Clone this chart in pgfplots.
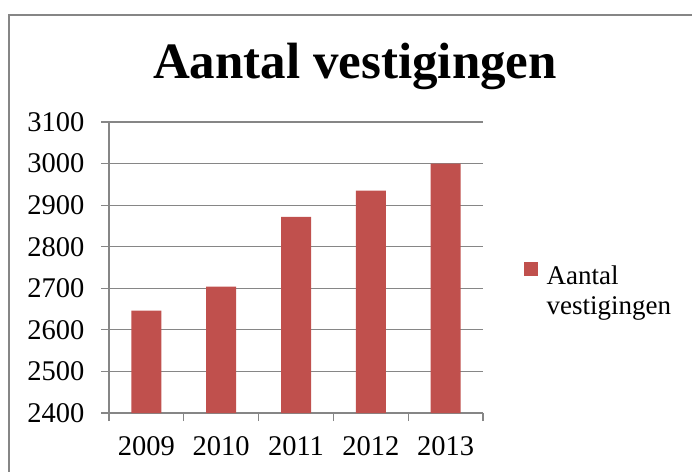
\documentclass[border=0pt]{standalone}
\usepackage{fontspec}
\setmainfont{Liberation Serif}
\usepackage{pgfplots}
\pgfplotsset{compat=1.18}
\definecolor{barred}{HTML}{C0504D}
\definecolor{gridgray}{HTML}{868686}
\begin{document}
\begin{tikzpicture}[x=1pt,y=1pt]
\useasboundingbox (0,0) rectangle (692,471);
\begin{scope}
\clip (0,0) rectangle (692,471);
\draw[gridgray, line width=1.5pt] (9,-20) rectangle (720,456);
\end{scope}
\node[font=\fontsize{51}{60}\selectfont\bfseries, anchor=base, inner sep=0pt] at (355,392) {Aantal vestigingen};
\begin{axis}[
  at={(109pt,58pt)}, anchor=south west,
  scale only axis, width=374pt, height=291pt,
  xmin=0.5, xmax=5.5, ymin=2400, ymax=3100,
  ytick={2400,2500,...,3100},
  ymajorgrids, grid style={gridgray, line width=1.2pt},
  axis x line*=bottom, axis y line*=left,
  axis line style={gridgray, line width=1.2pt, -},
  tick style={gridgray, line width=1.2pt},
  major tick length=8pt, tick align=outside,
  xtick={0.5,1.5,...,5.5}, xticklabels={},
  extra x ticks={1,2,3,4,5},
  extra x tick labels={2009,2010,2011,2012,2013},
  extra x tick style={major tick length=0pt, grid=none},
  ticklabel style={font=\fontsize{28.5}{32}\selectfont, text=black},
  xticklabel style={yshift=-20pt},
  yticklabel style={xshift=-13pt, /pgf/number format/1000 sep={}},
  /pgf/number format/assume math mode=true,
  ybar, bar width=30pt,
  legend style={at={(rel axis cs:1.108,0.52)}, anchor=north west, draw=none, fill=none,
    font=\fontsize{27}{30}\selectfont, inner sep=0pt, row sep=0pt},
  legend image code/.code={\fill[barred] (0pt,-1pt) rectangle (14pt,13pt);},
]
\addplot[fill=barred, draw=none] coordinates {(1,2646) (2,2704) (3,2872) (4,2935) (5,3000)};
\addlegendentry{\hspace*{7pt}\begin{tabular}[t]{@{}l@{}}Aantal\\vestigingen\end{tabular}}
\end{axis}
\end{tikzpicture}
\end{document}
